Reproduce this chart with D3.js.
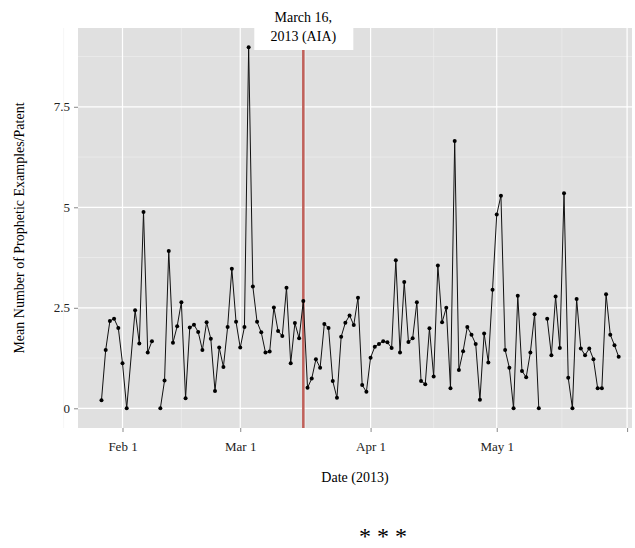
<!DOCTYPE html>
<html><head><meta charset="utf-8">
<script src="https://cdn.jsdelivr.net/npm/d3@7"></script>
<style>body{margin:0;background:#fff}svg text{font-family:"Liberation Serif","DejaVu Serif",serif}</style>
</head><body><svg class="svg" width="635" height="548"></svg>
<script>
// day offsets from 2013-01-27; null value = break in the line
const dayOffsets = [0,1,2,3,4,5,6,8,9,10,11,12,13,14,15,16,17,18,19,20,21,22,23,24,25,26,27,28,29,30,31,32,33,34,35,36,37,38,39,40,41,42,43,44,45,46,47,48,
  49,50,51,52,53,54,55,56,57,58,59,60,61,62,63,64,65,66,67,68,69,70,71,72,73,74,75,76,77,78,79,80,81,82,83,84,85,86,87,88,89,90,91,92,93,94,95,96,97,98,99,100,101,102,103,104,105,
  106,107,108,109,110,111,112,113,114,115,116,117,118,119,120,121,122,123];
const values = [0.2,1.45,2.17,2.23,2.0,1.12,0,2.44,1.61,4.88,1.39,1.67,null,0,0.69,3.91,1.63,2.04,2.64,0.25,2.01,2.08,1.9,1.45,2.14,1.73,0.43,1.51,1.03,2.02,3.47,2.15,1.51,2.02,8.98,3.03,2.15,1.89,1.39,1.41,2.51,1.92,1.8,3.0,1.12,2.12,1.74,2.67,
  0.51,0.74,1.22,1.01,2.1,2.0,0.68,0.26,1.78,2.13,2.31,2.07,2.75,0.58,0.41,1.26,1.53,1.6,1.67,1.64,1.5,3.68,1.39,3.14,1.65,1.74,2.64,0.68,0.6,1.99,0.79,3.55,2.14,2.5,0.5,6.65,0.95,1.42,2.02,1.83,1.6,0.21,1.86,1.14,2.95,4.82,5.29,1.45,1.01,0,2.8,0.93,0.77,1.39,2.34,0,null,
  2.23,1.32,2.78,1.5,5.35,0.76,0,2.72,1.49,1.32,1.49,1.22,0.5,0.5,2.84,1.83,1.57,1.28];
const yTicks = [0, 2.5, 5, 7.5];
const monthTicks = ['2013-02-01','2013-03-01','2013-04-01','2013-05-01','2013-06-01'];
const monthLabels = ['Feb 1','Mar 1','Apr 1','May 1',''];
const aiaDate = '2013-03-16';

const parse = d3.utcParse('%Y-%m-%d');
const start = parse('2013-01-27');
const data = dayOffsets.map((o, i) => ({date: d3.utcDay.offset(start, o), v: values[i]}));

const L = 78, R = 632, T = 28, B = 428;
const serif = '"Liberation Serif","DejaVu Serif",serif';
const x = d3.scaleUtc().domain([d3.utcHour.offset(start, -134), d3.utcHour.offset(start, 126.2*24)]).range([L, R]);
const y = d3.scaleLinear().domain([-0.49, 9.46]).range([B, T]);
const svg = d3.select('svg');

svg.append('rect').attr('x', L).attr('y', T).attr('width', R - L).attr('height', B - T).attr('fill', '#e0e0e0');
const mt = monthTicks.map(parse);
const minorX = mt.slice(0, -1).map((d, i) => new Date((+d + +mt[i + 1]) / 2));
minorX.unshift(new Date(+mt[0] - (+mt[1] - +mt[0]) / 2));
const g = svg.append('g');
minorX.forEach(d => g.append('line').attr('x1', x(d)).attr('x2', x(d)).attr('y1', T).attr('y2', B).attr('stroke', '#f0f0f0').attr('stroke-width', 0.6));
[-1.25, 1.25, 3.75, 6.25, 8.75].forEach(v => { if (y(v) < B && y(v) > T) g.append('line').attr('x1', L).attr('x2', R).attr('y1', y(v)).attr('y2', y(v)).attr('stroke', '#f0f0f0').attr('stroke-width', 0.6); });
mt.forEach(d => g.append('line').attr('x1', x(d)).attr('x2', x(d)).attr('y1', T).attr('y2', B).attr('stroke', '#fff').attr('stroke-width', 1.2));
yTicks.forEach(v => g.append('line').attr('x1', L).attr('x2', R).attr('y1', y(v)).attr('y2', y(v)).attr('stroke', '#fff').attr('stroke-width', 1.2));

const xAxis = d3.axisBottom(x).tickValues(mt).tickSize(4).tickFormat((d, i) => monthLabels[i]);
const ax = svg.append('g').attr('transform', `translate(0,${B})`).call(xAxis).attr('font-family', serif);
ax.select('.domain').remove();
ax.selectAll('line').attr('stroke', '#888');
ax.selectAll('text').attr('font-size', 13).attr('fill', '#222').attr('dy', '1.2em');
const yAxis = d3.axisLeft(y).tickValues(yTicks).tickSize(4).tickFormat(d => d);
const ay = svg.append('g').attr('transform', `translate(${L},0)`).call(yAxis).attr('font-family', serif);
ay.select('.domain').remove();
ay.selectAll('line').attr('stroke', '#888');
ay.selectAll('text').attr('font-size', 13).attr('fill', '#222').attr('x', -8);

const ax0 = x(parse(aiaDate));
svg.append('line').attr('x1', ax0).attr('x2', ax0).attr('y1', 50).attr('y2', B).attr('stroke', '#c0605a').attr('stroke-width', 2.5);

const line = d3.line().defined(d => d.v !== null).x(d => x(d.date)).y(d => y(d.v));
svg.append('path').datum(data).attr('d', line).attr('fill', 'none').attr('stroke', '#111').attr('stroke-width', 1);
svg.selectAll('circle').data(data.filter(d => d.v !== null)).join('circle')
  .attr('cx', d => x(d.date)).attr('cy', d => y(d.v)).attr('r', 2).attr('fill', '#000');

svg.append('rect').attr('x', ax0 - 49).attr('y', 0).attr('width', 99).attr('height', 50).attr('fill', '#fff');
svg.append('text').attr('x', ax0).attr('y', 22).attr('text-anchor', 'middle').attr('font-size', 14).text('March 16,');
svg.append('text').attr('x', ax0).attr('y', 41).attr('text-anchor', 'middle').attr('font-size', 14).text('2013 (AIA)');

svg.append('text').attr('x', (L + R) / 2).attr('y', 482).attr('text-anchor', 'middle').attr('font-size', 14).text('Date (2013)');
svg.append('text').attr('transform', `translate(24,${(T + B) / 2}) rotate(-90)`).attr('text-anchor', 'middle').attr('font-size', 14).text('Mean Number of Prophetic Examples/Patent');
svg.append('text').attr('x', 383).attr('y', 544).attr('text-anchor', 'middle').attr('font-size', 24).text('* * *');
</script></body></html>
